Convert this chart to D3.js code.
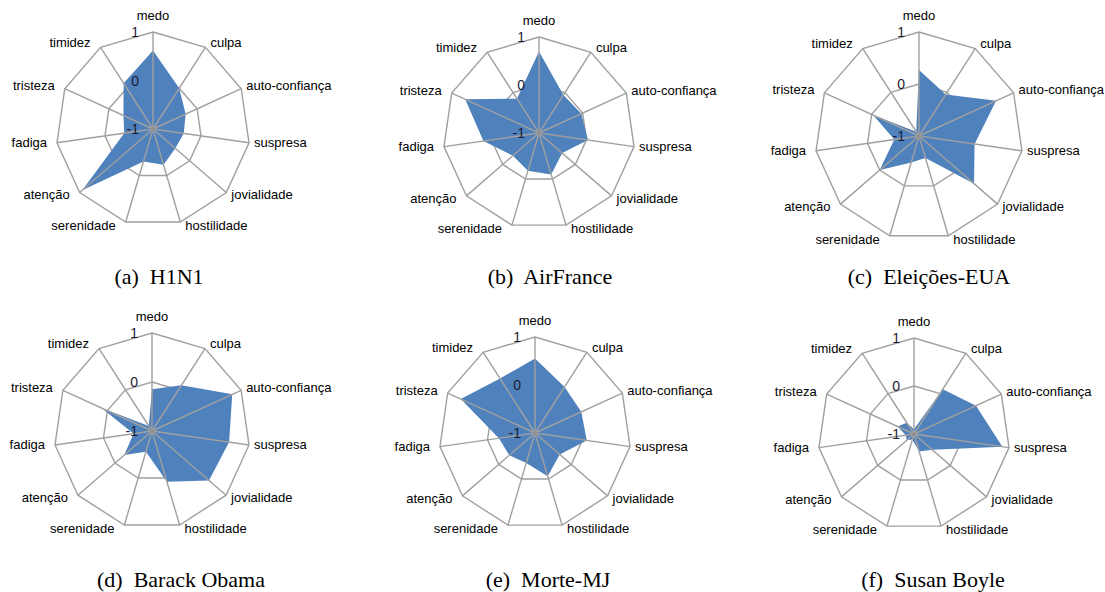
<!DOCTYPE html>
<html>
<head>
<meta charset="utf-8">
<script src="https://cdn.jsdelivr.net/npm/d3@7"></script>
<style>
  body { margin: 0; background: #fff; }
  svg { display: block; }
</style>
</head>
<body>
<script>
// axes of every radar, clockwise from the top
const axes = ["medo", "culpa", "auto-confiança", "suspresa", "jovialidade", "hostilidade",
              "serenidade", "atenção", "fadiga", "tristeza", "timidez"];
const ticks = [-1, 0, 1];
const captions = ["(a)  H1N1", "(b)  AirFrance", "(c)  Eleições-EUA",
                  "(d)  Barack Obama", "(e)  Morte-MJ", "(f)  Susan Boyle"];

// values, same order as axes
const h1n1       = [0.62, 0.00, -0.26, -0.36, -0.39, -0.23, -0.30, 0.93, -0.40, -0.33, 0.12];
const airFrance  = [0.70, -0.06, -0.03, 0.03, -0.36, -0.10, -0.18, -0.28, 0.17, 0.69, -0.15];
const eleicoes   = [0.27, -0.05, 0.63, 0.08, 0.40, -0.56, -0.47, 0.00, -0.52, -0.03, -0.90];
const obama      = [-0.15, 0.11, 0.80, 0.59, 0.54, 0.08, -0.56, -0.25, -0.62, 0.13, -0.88];
const morteMJ    = [0.55, 0.14, 0.06, 0.09, -0.32, -0.06, -0.35, -0.29, -0.24, 0.70, 0.35];
const susanBoyle = [-0.90, 0.11, 0.42, 0.86, -0.50, -0.62, -0.88, -0.80, -0.83, -0.62, -0.72];

const series = [h1n1, airFrance, eleicoes, obama, morteMJ, susanBoyle];

// where each small radar sits in the page
const layout = [
  {cx: 153, cy: 129, r: 97,  capX: 159, capY: 284},
  {cx: 539, cy: 133, r: 96,  capX: 550, capY: 284},
  {cx: 919, cy: 136, r: 104, capX: 929, capY: 284},
  {cx: 152, cy: 431, r: 98,  capX: 181, capY: 587},
  {cx: 535, cy: 433, r: 96,  capX: 548, capY: 587},
  {cx: 914, cy: 434, r: 96,  capX: 933, capY: 587}
];

const W = 1105, H = 592;
const svg = d3.select("body").append("svg").attr("width", W).attr("height", H);

const angle = d3.scaleLinear().domain([0, axes.length]).range([0, 2 * Math.PI]);
const gridColor = "#a0a0a0";

series.forEach((vals, k) => {
  const L = layout[k];
  const rScale = d3.scaleLinear().domain([-1, 1]).range([0, L.r]);
  const g = svg.append("g").attr("transform", `translate(${L.cx},${L.cy})`);

  const pt = (i, v) => {
    const a = angle(i), rr = rScale(v);
    return [rr * Math.sin(a), -rr * Math.cos(a)];
  };

  // rings for 0 and 1
  const ring = d3.line().curve(d3.curveLinearClosed);
  g.selectAll("path.ring").data(ticks.filter(t => t > -1)).join("path")
    .attr("class", "ring")
    .attr("d", t => ring(axes.map((_, i) => pt(i, t))))
    .attr("fill", "none").attr("stroke", gridColor).attr("stroke-width", 1.4);

  // filled series
  g.append("path")
    .attr("d", ring(vals.map((v, i) => pt(i, v))))
    .attr("fill", "#4f81bd");

  // spokes drawn over the fill
  g.selectAll("line.spoke").data(axes).join("line")
    .attr("class", "spoke")
    .attr("x1", 0).attr("y1", 0)
    .attr("x2", (d, i) => pt(i, 1)[0]).attr("y2", (d, i) => pt(i, 1)[1])
    .attr("stroke", gridColor).attr("stroke-width", 1.4);
  g.append("circle").attr("r", 2).attr("fill", "#8f8f8f");

  // tick labels beside the medo axis
  g.selectAll("text.tick").data(ticks).join("text")
    .attr("class", "tick")
    .attr("x", -14).attr("y", t => -rScale(t))
    .attr("dy", "0.36em")
    .attr("text-anchor", "end")
    .attr("font-family", "Liberation Sans, Arial, sans-serif")
    .attr("font-size", 14)
    .attr("fill", "#1b1b33")
    .text(d => d);

  // axis names, placed next to the outer vertex
  g.selectAll("text.axis").data(axes).join("text")
    .attr("class", "axis")
    .each(function(d, i) {
      const a = angle(i), s = Math.sin(a), c = Math.cos(a);
      const [vx, vy] = pt(i, 1);
      let x = vx, y = vy - 5 * c - 1, anchor = "middle";
      if (s > 0.2) { x = vx + 5; anchor = "start"; }
      else if (s < -0.2) { x = vx - 10; anchor = "end"; }
      else { y = vy - 17; }
      d3.select(this)
        .attr("x", x).attr("y", y)
        .attr("dy", "0.35em")
        .attr("text-anchor", anchor);
    })
    .attr("font-family", "Liberation Sans, Arial, sans-serif")
    .attr("font-size", 13)
    .attr("fill", "#000")
    .text(d => d);

  svg.append("text")
    .attr("x", L.capX).attr("y", L.capY)
    .attr("text-anchor", "middle")
    .attr("font-family", "Liberation Serif, Times New Roman, serif")
    .attr("font-size", 22)
    .attr("fill", "#000")
    .style("white-space", "pre")
    .text(captions[k]);
});
</script>
</body>
</html>
